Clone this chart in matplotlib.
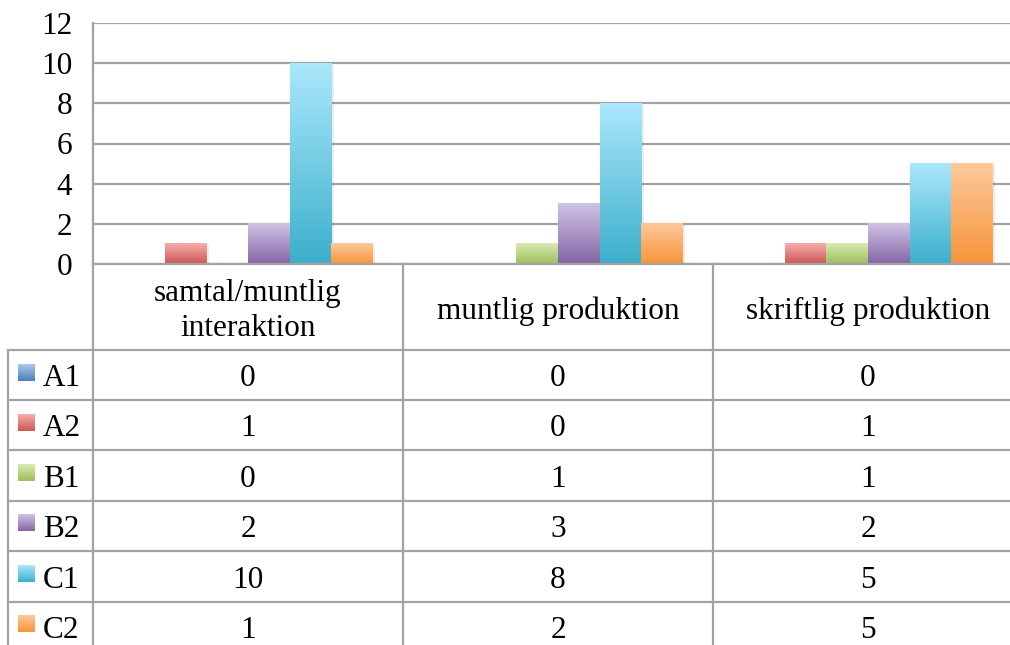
import matplotlib.pyplot as plt
import numpy as np
from matplotlib.colors import LinearSegmentedColormap

plt.rcParams['font.family'] = ['Liberation Serif', 'DejaVu Serif']

categories = ['samtal/muntlig\ninteraktion', 'muntlig produktion', 'skriftlig produktion']
series = ['A1', 'A2', 'B1', 'B2', 'C1', 'C2']
values = {
    'A1': [0, 0, 0],
    'A2': [1, 0, 1],
    'B1': [0, 1, 1],
    'B2': [2, 3, 2],
    'C1': [10, 8, 5],
    'C2': [1, 2, 5],
}
yticks = [0, 2, 4, 6, 8, 10, 12]

# (top colour, bottom colour) for the excel-ish gradient fill
grad = {
    'A1': ('#a9c8f0', '#4a7ebb'),
    'A2': ('#f7aeac', '#cd5653'),
    'B1': ('#d9ebb3', '#9dbd5b'),
    'B2': ('#d0c3e4', '#8465a6'),
    'C1': ('#abe8fc', '#3cafcb'),
    'C2': ('#fdc99c', '#f79438'),
}
grid_col = '#a3a3a3'
fs = 22.5

W, H = 1010, 645
fig = plt.figure(figsize=(W / 100, H / 100), dpi=100)

# chart area in pixels
left, right, top, bottom = 93, 1023, 23, 264
ax = fig.add_axes([left / W, (H - bottom) / H, (right - left) / W, (bottom - top) / H])
ax.set_xlim(-0.5, 2.5)
ax.set_ylim(0, 12)
ax.set_yticks(yticks)
ax.set_xticks([])
ax.tick_params(axis='y', length=0, labelsize=fs, pad=15)
for s in ['top', 'right', 'bottom']:
    ax.spines[s].set_visible(False)
ax.spines['left'].set_color(grid_col)
ax.spines['left'].set_linewidth(1.6)
for t in yticks:
    ax.axhline(t, color=grid_col, lw=1.6, zorder=1)

w = 0.134
x = np.arange(len(categories))
grad_img = np.linspace(1, 0, 256).reshape(-1, 1)
for i, s in enumerate(series):
    cmap = LinearSegmentedColormap.from_list(s, [grad[s][1], grad[s][0]])
    xs = x + (i - 2.5) * w
    bars = ax.bar(xs, values[s], width=w, color='none', edgecolor='none', zorder=2)
    for b in bars:
        h = b.get_height()
        if h <= 0:
            continue
        x0 = b.get_x()
        # soft shadow
        ax.bar(x0 + w / 2 + 0.008, h, width=w, bottom=-0.08, color='#000000', alpha=0.07,
               zorder=2, linewidth=0)
        ax.imshow(grad_img, extent=[x0, x0 + w, 0, h], aspect='auto', cmap=cmap,
                  vmin=0, vmax=1, zorder=3, interpolation='bicubic')
ax.set_xlim(-0.5, 2.5)
ax.set_ylim(0, 12)

# data table below the chart, drawn in pixel coords
tb = fig.add_axes([0, 0, 1, 1])
tb.set_xlim(0, W)
tb.set_ylim(H, 0)
tb.axis('off')
tb.patch.set_alpha(0)

col_x = [93, 403, 713, 1023]
row_y = [350, 400, 450, 500.5, 551, 601.5, 652]
lw = 1.6
tb.plot([93, W], [bottom, bottom], color=grid_col, lw=lw)
for cx in col_x:
    tb.plot([cx, cx], [bottom, H], color=grid_col, lw=lw)
tb.plot([8.3, 8.3], [row_y[0], H], color=grid_col, lw=lw)
for ry in row_y[:-1]:
    tb.plot([8.3, W], [ry, ry], color=grid_col, lw=lw)

for j, c in enumerate(categories):
    tb.text((col_x[j] + col_x[j + 1]) / 2, (bottom + row_y[0]) / 2 + 4, c, ha='center', va='center',
            fontsize=fs, linespacing=1.3)

for i, s in enumerate(series):
    yc = (row_y[i] + row_y[i + 1]) / 2
    cmap = LinearSegmentedColormap.from_list(s, [grad[s][1], grad[s][0]])
    tb.imshow(grad_img, extent=[18, 35, row_y[i] + 31, row_y[i] + 14], aspect='auto', cmap=cmap,
              vmin=0, vmax=1, interpolation='bicubic')
    tb.text(43, yc + 4, s, ha='left', va='center', fontsize=fs)
    for j in range(len(categories)):
        tb.text((col_x[j] + col_x[j + 1]) / 2, yc + 4, str(values[s][j]), ha='center', va='center',
                fontsize=fs)
tb.set_xlim(0, W)
tb.set_ylim(H, 0)

fig.savefig('out.png', dpi=100)
